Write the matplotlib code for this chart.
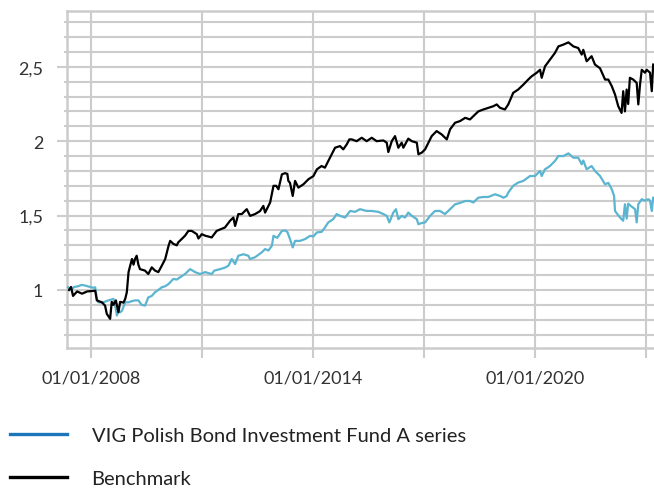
import pandas as pd
import matplotlib
matplotlib.use('Agg')
import matplotlib.pyplot as plt
from matplotlib.lines import Line2D

plt.rcParams['font.family'] = ['Lato', 'DejaVu Sans']

# Benchmark (black line)
bench_dates = [
    '2007-05-27', '2007-06-16', '2007-07-06', '2007-08-15', '2007-10-03', '2007-11-22',
    '2008-02-10', '2008-02-26', '2008-04-15', '2008-05-17', '2008-06-03', '2008-07-06',
    '2008-07-22', '2008-08-08', '2008-09-01', '2008-09-26', '2008-10-13', '2008-11-15',
    '2008-12-02', '2008-12-18', '2009-01-04', '2009-01-20', '2009-02-07', '2009-02-22',
    '2009-03-09', '2009-03-25', '2009-04-11', '2009-04-27', '2009-06-16', '2009-07-18',
    '2009-08-21', '2009-09-23', '2009-10-25', '2009-11-28', '2010-01-01', '2010-02-03',
    '2010-02-19', '2010-03-22', '2010-04-25', '2010-05-10', '2010-07-15', '2010-08-18',
    '2010-09-20', '2010-11-09', '2010-11-25', '2010-12-28', '2011-01-30', '2011-04-05',
    '2011-05-24', '2011-08-14', '2011-10-03', '2011-11-05', '2011-11-22', '2011-12-24',
    '2012-01-27', '2012-03-16', '2012-04-18', '2012-06-06', '2012-07-25', '2012-08-27',
    '2012-09-13', '2012-11-02', '2012-12-05', '2013-01-01', '2013-01-23', '2013-02-26',
    '2013-03-29', '2013-04-21', '2013-05-01', '2013-05-17', '2013-06-13', '2013-07-06',
    '2013-08-08', '2013-09-26', '2013-11-15', '2014-01-04', '2014-02-07', '2014-03-25',
    '2014-04-27', '2014-05-30', '2014-07-03', '2014-08-05', '2014-09-23', '2014-10-25',
    '2014-11-28', '2014-12-24', '2015-01-17', '2015-03-06', '2015-04-25', '2015-06-13',
    '2015-08-02', '2015-09-20', '2015-11-25', '2015-12-28', '2016-01-13', '2016-02-16',
    '2016-03-19', '2016-04-21', '2016-05-24', '2016-06-09', '2016-07-28', '2016-09-01',
    '2016-10-20', '2016-11-05', '2016-12-08', '2017-01-10', '2017-02-12', '2017-03-16',
    '2017-05-04', '2017-06-23', '2017-08-12', '2017-09-14', '2017-11-02', '2017-12-21',
    '2018-02-10', '2018-03-29', '2018-05-01', '2018-06-19', '2018-08-08', '2018-09-26',
    '2018-11-15', '2018-12-18', '2019-01-20', '2019-03-09', '2019-04-11', '2019-05-30',
    '2019-07-18', '2019-09-07', '2019-10-25', '2019-11-28', '2020-01-17', '2020-02-19',
    '2020-03-06', '2020-04-08', '2020-05-27', '2020-07-15', '2020-08-18', '2020-10-06',
    '2020-11-25', '2021-01-13', '2021-03-02', '2021-04-05', '2021-04-21', '2021-05-24',
    '2021-07-12', '2021-08-14', '2021-10-03', '2021-11-22', '2021-12-24', '2022-01-27',
    '2022-02-28', '2022-04-01', '2022-05-04', '2022-05-20', '2022-06-06', '2022-06-23',
    '2022-07-08', '2022-07-25', '2022-08-27', '2022-09-30', '2022-10-16', '2022-11-02',
    '2022-11-19', '2022-12-21', '2023-01-07', '2023-02-09', '2023-02-26', '2023-03-12',
]
bench_values = [
    1.00, 1.02, 0.96, 0.99, 0.975, 0.99,
    0.995, 0.93, 0.917, 0.895, 0.84, 0.806,
    0.92, 0.90, 0.93, 0.85, 0.92, 0.915,
    0.94, 0.985, 1.12, 1.163, 1.208, 1.17,
    1.208, 1.23, 1.17, 1.14, 1.13, 1.107,
    1.152, 1.13, 1.12, 1.163, 1.208, 1.297,
    1.33, 1.31, 1.30, 1.32, 1.364, 1.397,
    1.397, 1.375, 1.346, 1.375, 1.365, 1.353,
    1.397, 1.42, 1.465, 1.487, 1.43, 1.51,
    1.51, 1.543, 1.498, 1.51, 1.53, 1.565,
    1.52, 1.588, 1.70, 1.70, 1.677, 1.777,
    1.785, 1.78, 1.733, 1.72, 1.632, 1.733,
    1.688, 1.71, 1.744, 1.766, 1.811, 1.833,
    1.822, 1.867, 1.912, 1.956, 1.967, 1.945,
    1.978, 2.012, 2.012, 2.00, 2.023, 2.00,
    2.023, 2.00, 2.005, 1.99, 1.927, 2.00,
    2.034, 1.956, 1.99, 1.956, 2.017, 2.00,
    1.99, 1.912, 1.923, 1.945, 1.99, 2.034,
    2.068, 2.045, 2.012, 2.08, 2.124, 2.135,
    2.157, 2.146, 2.168, 2.20, 2.213, 2.224,
    2.235, 2.247, 2.224, 2.213, 2.247, 2.325,
    2.347, 2.38, 2.414, 2.436, 2.46, 2.48,
    2.426, 2.503, 2.548, 2.593, 2.637, 2.649,
    2.664, 2.637, 2.626, 2.582, 2.614, 2.537,
    2.571, 2.515, 2.49, 2.414, 2.414, 2.37,
    2.314, 2.235, 2.19, 2.336, 2.20, 2.347,
    2.25, 2.426, 2.414, 2.392, 2.247, 2.38,
    2.48, 2.46, 2.48, 2.46, 2.336, 2.515,
]

# VIG Polish Bond Investment Fund A series (light blue line)
fund_dates = [
    '2007-05-17', '2007-06-16', '2007-07-16', '2007-08-25', '2007-09-30', '2007-11-02',
    '2007-12-22', '2008-01-23', '2008-02-10', '2008-02-26', '2008-03-12', '2008-04-30',
    '2008-06-19', '2008-08-08', '2008-08-24', '2008-09-11', '2008-09-26', '2008-10-13',
    '2008-10-30', '2008-12-02', '2009-01-04', '2009-02-07', '2009-03-09', '2009-04-11',
    '2009-05-14', '2009-06-16', '2009-07-18', '2009-08-21', '2009-09-23', '2009-10-25',
    '2009-11-28', '2010-01-01', '2010-02-03', '2010-03-22', '2010-04-25', '2010-05-27',
    '2010-07-15', '2010-09-04', '2010-10-23', '2010-12-11', '2011-01-30', '2011-04-05',
    '2011-05-01', '2011-06-26', '2011-08-14', '2011-09-17', '2011-10-20', '2011-11-22',
    '2011-12-24', '2012-02-12', '2012-04-01', '2012-04-18', '2012-06-06', '2012-08-12',
    '2012-09-13', '2012-10-16', '2012-11-19', '2012-12-05', '2013-01-11', '2013-02-26',
    '2013-03-29', '2013-04-21', '2013-05-17', '2013-06-13', '2013-07-06', '2013-08-24',
    '2013-10-13', '2013-12-02', '2014-01-04', '2014-02-07', '2014-03-25', '2014-04-27',
    '2014-05-30', '2014-07-18', '2014-08-21', '2014-09-23', '2014-11-12', '2015-01-01',
    '2015-02-19', '2015-04-08', '2015-06-13', '2015-08-02', '2015-10-06', '2015-11-25',
    '2015-12-28', '2016-01-23', '2016-03-02', '2016-03-28', '2016-04-21', '2016-05-24',
    '2016-06-26', '2016-07-28', '2016-09-01', '2016-10-20', '2016-11-05', '2016-12-08',
    '2017-01-10', '2017-02-28', '2017-04-18', '2017-06-06', '2017-07-25', '2017-09-14',
    '2017-11-02', '2017-12-21', '2018-02-10', '2018-03-29', '2018-05-01', '2018-06-19',
    '2018-08-08', '2018-09-26', '2018-12-02', '2019-01-20', '2019-02-22', '2019-03-25',
    '2019-04-11', '2019-05-30', '2019-07-18', '2019-09-07', '2019-11-12', '2020-01-01',
    '2020-02-19', '2020-03-06', '2020-04-08', '2020-05-27', '2020-07-15', '2020-08-18',
    '2020-10-06', '2020-11-25', '2021-01-13', '2021-03-02', '2021-04-05', '2021-04-21',
    '2021-05-24', '2021-07-12', '2021-08-14', '2021-10-03', '2021-11-22', '2021-12-24',
    '2022-01-27', '2022-02-19', '2022-02-28', '2022-04-18', '2022-05-20', '2022-06-06',
    '2022-06-23', '2022-07-08', '2022-08-12', '2022-09-14', '2022-09-30', '2022-10-16',
    '2022-11-19', '2022-12-21', '2023-01-23', '2023-02-09', '2023-02-26', '2023-03-12',
]
fund_values = [
    1.018, 1.00, 1.02, 1.025, 1.034, 1.03,
    1.02, 1.015, 1.018, 0.94, 0.917, 0.917,
    0.93, 0.94, 0.90, 0.828, 0.86, 0.85,
    0.86, 0.917, 0.917, 0.925, 0.93, 0.93,
    0.90, 0.895, 0.95, 0.96, 0.985, 1.00,
    1.018, 1.025, 1.04, 1.074, 1.07, 1.085,
    1.107, 1.14, 1.12, 1.107, 1.12, 1.107,
    1.13, 1.14, 1.15, 1.163, 1.208, 1.174,
    1.23, 1.24, 1.23, 1.208, 1.22, 1.253,
    1.275, 1.265, 1.297, 1.364, 1.35, 1.397,
    1.40, 1.39, 1.342, 1.286, 1.33, 1.33,
    1.342, 1.364, 1.36, 1.387, 1.39, 1.42,
    1.454, 1.476, 1.51, 1.498, 1.487, 1.531,
    1.525, 1.543, 1.531, 1.531, 1.525, 1.51,
    1.498, 1.454, 1.52, 1.543, 1.476, 1.498,
    1.487, 1.52, 1.498, 1.476, 1.442, 1.45,
    1.454, 1.498, 1.531, 1.531, 1.51, 1.543,
    1.576, 1.585, 1.598, 1.598, 1.588, 1.62,
    1.625, 1.625, 1.643, 1.632, 1.62, 1.63,
    1.655, 1.70, 1.722, 1.733, 1.766, 1.766,
    1.80, 1.766, 1.811, 1.833, 1.867, 1.90,
    1.90, 1.918, 1.889, 1.889, 1.845, 1.87,
    1.811, 1.833, 1.80, 1.766, 1.71, 1.72,
    1.677, 1.632, 1.531, 1.487, 1.465, 1.576,
    1.48, 1.58, 1.56, 1.543, 1.454, 1.576,
    1.61, 1.60, 1.61, 1.60, 1.531, 1.62,
]

x_ticks = ['2008-01-01', '2011-01-01', '2014-01-01', '2017-01-01', '2020-01-01', '2023-01-01']
x_tick_labels = ['01/01/2008', '', '01/01/2014', '', '01/01/2020', '']
y_ticks = [1.0, 1.5, 2.0, 2.5]
y_tick_labels = ['1', '1,5', '2', '2,5']

fund_name = 'VIG Polish Bond Investment Fund A series'
bench_name = 'Benchmark'

grid_col = '#cccccc'
text_col = '#333333'

fig = plt.figure(figsize=(6.54, 4.89), dpi=100)
ax = fig.add_axes([0.1024, 0.2863, 0.8976, 0.6892])

ax.plot(pd.to_datetime(fund_dates), fund_values, color='#5bb5d1', lw=1.6, zorder=3)
ax.plot(pd.to_datetime(bench_dates), bench_values, color='black', lw=1.6, zorder=4)

ax.set_xlim(pd.Timestamp('2007-05-07'), pd.Timestamp('2023-03-20'))
ax.set_ylim(0.61, 2.875)

ax.set_xticks(pd.to_datetime(x_ticks))
ax.set_xticklabels(x_tick_labels)
ax.set_yticks(y_ticks)
ax.set_yticklabels(y_tick_labels)
ax.set_yticks([v / 10 for v in range(7, 29)], minor=True)

ax.grid(True, axis='x', which='major', color=grid_col, lw=1.5)
ax.grid(True, axis='y', which='both', color=grid_col, lw=1.5)
ax.set_axisbelow(True)

ax.tick_params(axis='both', which='major', length=7.2, width=1.5, color=grid_col,
               labelsize=13, labelcolor=text_col)
ax.tick_params(axis='y', which='major', pad=10)
ax.tick_params(axis='x', which='major', pad=8)
ax.tick_params(axis='y', which='minor', length=2, width=1.5, color=grid_col)

for side in ['left', 'bottom', 'top']:
    ax.spines[side].set_color(grid_col)
    ax.spines[side].set_linewidth(1.8)
ax.spines['right'].set_visible(False)

handles = [Line2D([], [], color='#1a75bb', lw=2.4),
           Line2D([], [], color='black', lw=2.4)]
fig.legend(handles, [fund_name, bench_name], loc='upper left',
           bbox_to_anchor=(0.0153, 0.125), frameon=False, fontsize=14.5,
           handlelength=2.85, handletextpad=1.2, labelspacing=1.3,
           labelcolor='#222222', borderaxespad=0, borderpad=0)

fig.savefig('out.png', dpi=100)
